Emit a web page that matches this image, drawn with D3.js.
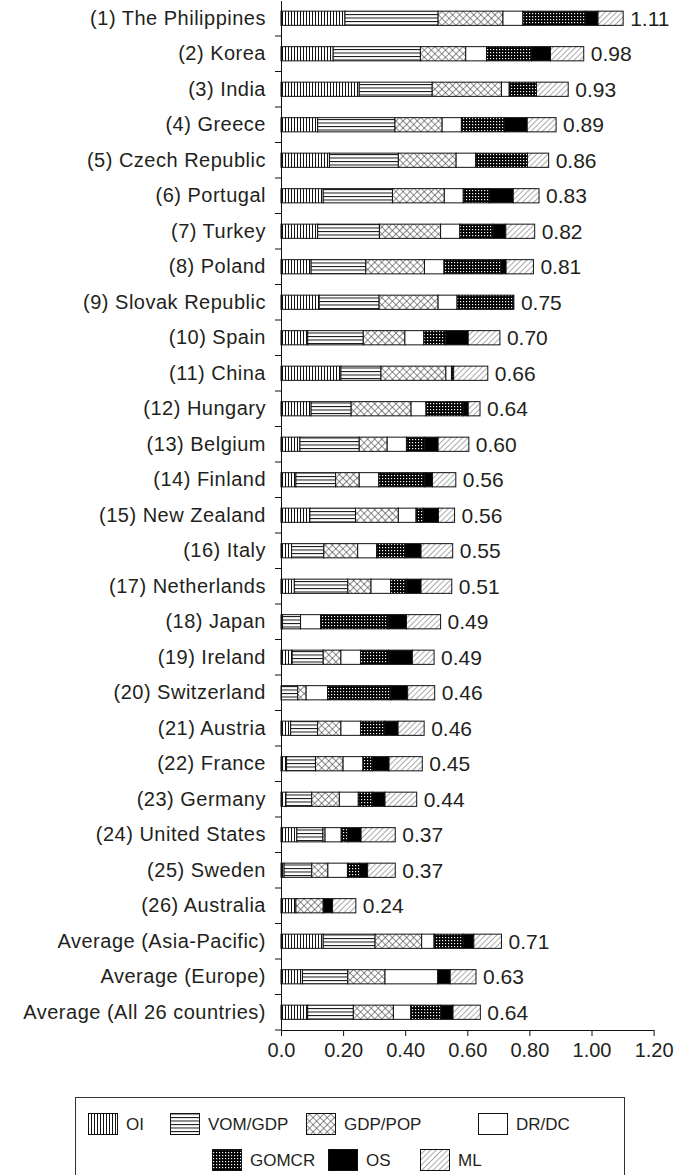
<!DOCTYPE html>
<html>
<head>
<meta charset="utf-8">
<script src="https://cdn.jsdelivr.net/npm/d3@7"></script>
<style>
  body { margin: 0; background: #fff; }
  text { font-family: "Liberation Sans", Arial, sans-serif; fill: #231f20; }
</style>
</head>
<body>
<div id="chart"></div>
<script>
// stacked horizontal bars, one pattern per component

const countries = [
    "(1) The Philippines", "(2) Korea", "(3) India", "(4) Greece", "(5) Czech Republic",
    "(6) Portugal", "(7) Turkey", "(8) Poland", "(9) Slovak Republic", "(10) Spain",
    "(11) China", "(12) Hungary", "(13) Belgium", "(14) Finland", "(15) New Zealand",
    "(16) Italy", "(17) Netherlands", "(18) Japan", "(19) Ireland", "(20) Switzerland",
    "(21) Austria", "(22) France", "(23) Germany", "(24) United States", "(25) Sweden",
    "(26) Australia", "Average (Asia-Pacific)", "Average (Europe)", "Average (All 26 countries)"
];
const totals = ["1.11", "0.98", "0.93", "0.89", "0.86", "0.83", "0.82", "0.81", "0.75", "0.70",
    "0.66", "0.64", "0.60", "0.56", "0.56", "0.55", "0.51", "0.49", "0.49", "0.46",
    "0.46", "0.45", "0.44", "0.37", "0.37", "0.24", "0.71", "0.63", "0.64"];

const seriesNames = ["OI", "VOM/GDP", "GDP/POP", "DR/DC", "GOMCR", "OS", "ML"];
const oi = [0.206, 0.168, 0.252, 0.118, 0.156, 0.136, 0.118, 0.097, 0.123, 0.086, 0.193, 0.097, 0.061, 0.048, 0.093,
    0.034, 0.043, 0.005, 0.036, 0, 0.031, 0.018, 0.016, 0.051, 0.010, 0.048, 0.136, 0.069, 0.086];
const vomGdp = [0.300, 0.281, 0.235, 0.249, 0.222, 0.223, 0.199, 0.176, 0.193, 0.179, 0.129, 0.129, 0.191, 0.128, 0.147,
    0.104, 0.172, 0.058, 0.100, 0.054, 0.087, 0.093, 0.083, 0.084, 0.089, 0, 0.167, 0.146, 0.147];
const gdpPop = [0.209, 0.146, 0.223, 0.152, 0.186, 0.167, 0.197, 0.189, 0.190, 0.134, 0.209, 0.193, 0.090, 0.076, 0.138,
    0.109, 0.075, 0, 0.057, 0.027, 0.075, 0.089, 0.089, 0.007, 0.052, 0.088, 0.150, 0.120, 0.129];
const drDc = [0.064, 0.067, 0.025, 0.062, 0.063, 0.061, 0.062, 0.063, 0.061, 0.061, 0.018, 0.048, 0.062, 0.063, 0.057,
    0.061, 0.063, 0.065, 0.063, 0.069, 0.063, 0.064, 0.061, 0.052, 0.063, 0, 0.040, 0.170, 0.056];
const gomcr = [0.202, 0.145, 0.088, 0.139, 0.167, 0.084, 0.107, 0.183, 0.183, 0.071, 0.007, 0.120, 0.059, 0.148, 0.024,
    0.091, 0.052, 0.219, 0.091, 0.204, 0.078, 0.030, 0.046, 0.020, 0.039, 0, 0.094, 0, 0.097];
const os = [0.040, 0.061, 0, 0.073, 0, 0.077, 0.041, 0.017, 0, 0.072, 0, 0.016, 0.043, 0.025, 0.048,
    0.052, 0.046, 0.057, 0.076, 0.054, 0.043, 0.054, 0.040, 0.044, 0.026, 0.030, 0.034, 0.040, 0.039];
const ml = [0.081, 0.107, 0.102, 0.093, 0.068, 0.083, 0.093, 0.088, 0, 0.102, 0.110, 0.038, 0.099, 0.075, 0.052,
    0.102, 0.099, 0.110, 0.070, 0.087, 0.084, 0.107, 0.102, 0.110, 0.089, 0.075, 0.089, 0.083, 0.088];

const xTicks = [0, 0.2, 0.4, 0.6, 0.8, 1.0, 1.2];
const xTickLabels = ["0.0", "0.20", "0.40", "0.60", "0.80", "1.00", "1.20"];

const width = 686;
const height = 1175;
const plot = { left: 281, right: 653.6, top: 0.5, bottom: 1030 };

const seriesValues = [oi, vomGdp, gdpPop, drDc, gomcr, os, ml];
const rows = countries.map((c, i) => {
    const row = { country: c, total: totals[i] };
    seriesNames.forEach((s, j) => row[s] = seriesValues[j][i]);
    return row;
});

const svg = d3.select("#chart")
    .append("svg")
    .attr("width", width)
    .attr("height", height);

// fill patterns
const defs = svg.append("defs");
const pOI = defs.append("pattern").attr("id", "p0")
    .attr("patternUnits", "userSpaceOnUse").attr("width", 3).attr("height", 3);
pOI.append("rect").attr("width", 3).attr("height", 3).attr("fill", "#fff");
pOI.append("line").attr("x1", 0.5).attr("x2", 0.5).attr("y1", 0).attr("y2", 3)
    .attr("stroke", "#111").attr("stroke-width", 1);

const pVom = defs.append("pattern").attr("id", "p1")
    .attr("patternUnits", "userSpaceOnUse").attr("width", 4).attr("height", 3.5);
pVom.append("rect").attr("width", 4).attr("height", 3.5).attr("fill", "#fff");
pVom.append("line").attr("x1", 0).attr("x2", 4).attr("y1", 0.5).attr("y2", 0.5)
    .attr("stroke", "#111").attr("stroke-width", 1);

const pGdp = defs.append("pattern").attr("id", "p2")
    .attr("patternUnits", "userSpaceOnUse").attr("width", 5).attr("height", 5)
    .attr("patternTransform", "rotate(45)");
pGdp.append("rect").attr("width", 5).attr("height", 5).attr("fill", "#fff");
pGdp.append("line").attr("x1", 0).attr("x2", 0).attr("y1", 0).attr("y2", 5)
    .attr("stroke", "#444").attr("stroke-width", 1.2);
pGdp.append("line").attr("x1", 0).attr("x2", 5).attr("y1", 0).attr("y2", 0)
    .attr("stroke", "#444").attr("stroke-width", 1.2);

const pGom = defs.append("pattern").attr("id", "p4")
    .attr("patternUnits", "userSpaceOnUse").attr("width", 3).attr("height", 3);
pGom.append("rect").attr("width", 3).attr("height", 3).attr("fill", "#000");
pGom.append("rect").attr("x", 1).attr("y", 1).attr("width", 1.2).attr("height", 1.2).attr("fill", "#fff");

const pMl = defs.append("pattern").attr("id", "p6")
    .attr("patternUnits", "userSpaceOnUse").attr("width", 4).attr("height", 4)
    .attr("patternTransform", "rotate(45)");
pMl.append("rect").attr("width", 4).attr("height", 4).attr("fill", "#fff");
pMl.append("line").attr("x1", 0).attr("x2", 0).attr("y1", 0).attr("y2", 4)
    .attr("stroke", "#555").attr("stroke-width", 1);

const seriesFill = ["url(#p0)", "url(#p1)", "url(#p2)", "#fff", "url(#p4)", "#000", "url(#p6)"];

const x = d3.scaleLinear()
    .domain([0, 1.2])
    .range([plot.left, plot.right]);

const y = d3.scaleBand()
    .domain(countries)
    .range([plot.top, plot.bottom])
    .paddingInner(0.6)
    .paddingOuter(0.3);

const stacked = d3.stack().keys(seriesNames)(rows);

const gBars = svg.append("g").attr("class", "bars");
gBars.selectAll("g")
    .data(stacked)
    .enter()
    .append("g")
    .attr("fill", (_, i) => seriesFill[i])
    .selectAll("rect")
    .data(d => d.filter(s => s[1] - s[0] > 0))
    .enter()
    .append("rect")
    .attr("x", d => x(d[0]))
    .attr("y", d => y(d.data.country))
    .attr("width", d => x(d[1]) - x(d[0]))
    .attr("height", y.bandwidth())
    .attr("stroke", "#111")
    .attr("stroke-width", 1);

// total labels at bar ends
const last = stacked[stacked.length - 1];
svg.append("g").selectAll("text")
    .data(last)
    .enter()
    .append("text")
    .attr("x", d => x(d[1]) + 7)
    .attr("y", d => y(d.data.country) + y.bandwidth() / 2)
    .attr("dy", "0.36em")
    .style("font-size", "21px")
    .text(d => d.data.total);

// left axis: labels, then boundary ticks
const gLeft = svg.append("g")
    .attr("transform", `translate(${plot.left},0)`)
    .call(d3.axisLeft(y).tickSize(0).tickPadding(15));
gLeft.select(".domain").attr("stroke", "#111");
gLeft.selectAll("text")
    .style("font-size", "20px")
    .style("letter-spacing", "0.5px")
    .attr("font-family", null)
    .attr("fill", null);

const boundaries = countries.slice(1).map(c => y(c) - (y.step() - y.bandwidth()) / 2);
boundaries.push(plot.bottom);
gLeft.selectAll(".bound")
    .data(boundaries)
    .enter()
    .append("line")
    .attr("class", "bound")
    .attr("x1", -6).attr("x2", 0)
    .attr("y1", d => d).attr("y2", d => d)
    .attr("stroke", "#111");

const gBottom = svg.append("g")
    .attr("transform", `translate(0,${plot.bottom})`)
    .call(d3.axisBottom(x)
        .tickValues(xTicks)
        .tickFormat((d, i) => xTickLabels[i])
        .tickSize(6)
        .tickSizeOuter(0)
        .tickPadding(7));
gBottom.selectAll("line, .domain").attr("stroke", "#111");
gBottom.selectAll("text")
    .style("font-size", "20px")
    .attr("font-family", null)
    .attr("fill", null);

// legend
const legendBox = { x: 75, y: 1097, w: 549, h: 100 };
svg.append("rect")
    .attr("x", legendBox.x + 0.5)
    .attr("y", legendBox.y + 0.5)
    .attr("width", legendBox.w)
    .attr("height", legendBox.h)
    .attr("fill", "none")
    .attr("stroke", "#333");

const legendX = [88, 170, 306, 478, 212, 328, 420];
const legendY = [1124, 1124, 1124, 1124, 1160, 1160, 1160];
const gLegend = svg.append("g").attr("class", "legend");
const items = gLegend.selectAll("g")
    .data(seriesNames)
    .enter()
    .append("g")
    .attr("transform", (_, i) => `translate(${legendX[i]},${legendY[i]})`);
items.append("rect")
    .attr("x", 0.5)
    .attr("y", -10.5)
    .attr("width", 29)
    .attr("height", 21)
    .attr("fill", (_, i) => seriesFill[i])
    .attr("stroke", "#111");
items.append("text")
    .attr("x", 38)
    .attr("dy", "0.36em")
    .style("font-size", "17px")
    .text(d => d);
</script>
</body>
</html>
